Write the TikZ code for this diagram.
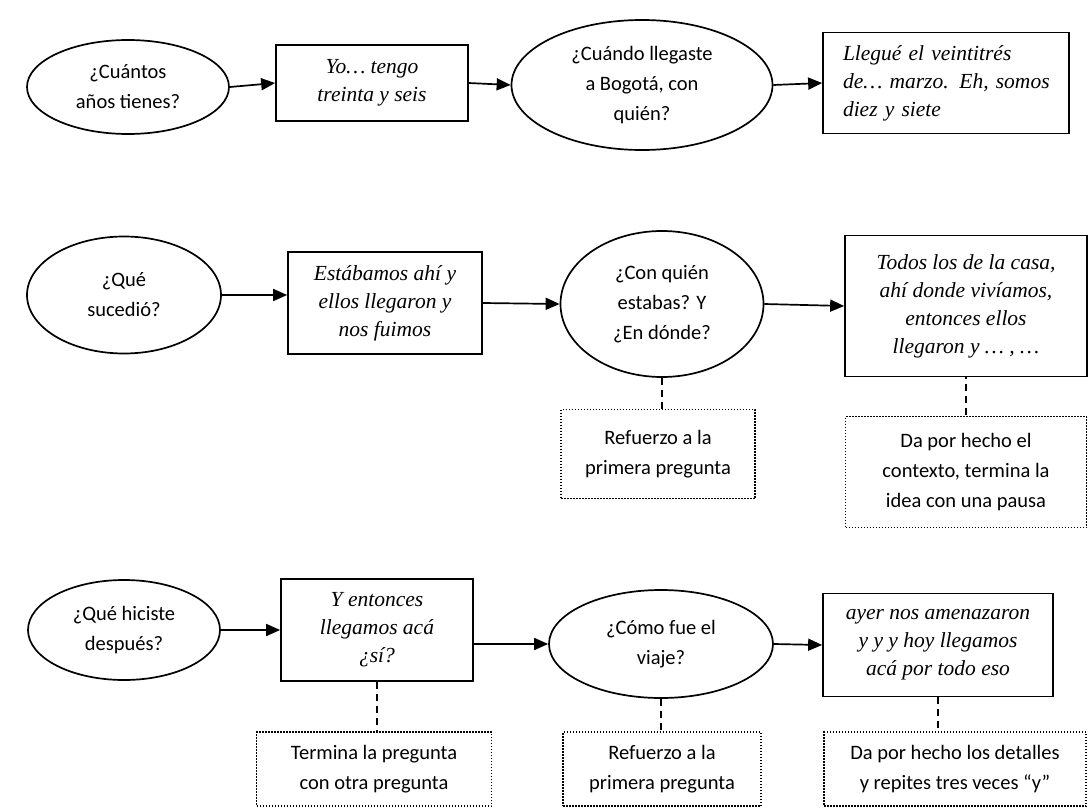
\documentclass[tikz,border=0pt]{standalone}
\usepackage{fontspec}
\usetikzlibrary{shapes.geometric,arrows.meta}
\newfontfamily\sansq{Carlito}
\newfontfamily\serifa{Liberation Serif}
\newcommand\myq{\sansq\fontsize{20.5pt}{30pt}\selectfont}
\newcommand\mya{\serifa\itshape\fontsize{21.5pt}{28pt}\selectfont}
\tikzset{
  qnode/.style={ellipse, draw, line width=1.7pt, font=\myq, align=center, inner sep=0pt},
  anode/.style={rectangle, draw, line width=1.7pt, font=\mya, align=center, inner sep=0pt},
  note/.style={rectangle, draw, line width=1.5pt, dash pattern=on 1.5pt off 1.5pt, font=\myq, align=center, inner sep=0pt},
  link/.style={line width=1.7pt, dash pattern=on 7pt off 5pt},
  flow/.style={line width=1.7pt, -{Triangle[length=14pt,width=12pt]}}
}
\begin{document}
\begin{tikzpicture}[x=1pt,y=-1pt]
\useasboundingbox (0,0) rectangle (1089,808);
\fill[white] (0,0) rectangle (1089,808);
% row 1
\node[qnode, minimum width=202pt, minimum height=94pt] (e1) at (128,87) {¿Cuántos\\años tienes?};
\node[anode, minimum width=192pt, minimum height=76pt] (b1) at (372,83) {Yo… tengo\\treinta y seis};
\node[qnode, minimum width=261pt, minimum height=130pt] (e2) at (642,85) {¿Cuándo llegaste\\a Bogotá, con\\quién?};
\node[anode, align=left, text width=206pt, inner xsep=20pt, minimum height=101pt] (b2) at (946,83) {\mbox{Llegué el veintitrés}\\\mbox{de… marzo. Eh, somos}\\\mbox{diez y siete}};
% row 2
\node[qnode, minimum width=194pt, minimum height=117pt] (e3) at (124,295) {¿Qué\\sucedió?};
\node[anode, minimum width=194pt, minimum height=102pt] (b3) at (385,303) {Estábamos ahí y\\ellos llegaron y\\nos fuimos};
\node[qnode, minimum width=203pt, minimum height=146pt] (e4) at (662,304) {¿Con quién\\estabas? Y\\¿En dónde?};
\node[anode, minimum width=242pt, minimum height=141pt] (b4) at (966,306) {Todos los de la casa,\\ahí donde vivíamos,\\entonces ellos\\llegaron y … , …};
\node[note, minimum width=194pt, minimum height=89pt] (d1) at (658,454) {Refuerzo a la\\primera pregunta};
\node[note, minimum width=241pt, minimum height=111pt] (d2) at (966,472) {Da por hecho el\\contexto, termina la\\idea con una pausa};
% row 3
\node[qnode, minimum width=192pt, minimum height=100pt] (e5) at (124,630) {¿Qué hiciste\\después?};
\node[anode, minimum width=192pt, minimum height=102pt] (b5) at (377,630) {Y entonces\\llegamos acá\\¿sí?};
\node[qnode, minimum width=224pt, minimum height=108pt] (e6) at (661,644) {¿Cómo fue el\\viaje?};
\node[anode, minimum width=230pt, minimum height=103pt] (b6) at (938,645) {ayer nos amenazaron\\y y y hoy llegamos\\acá por todo eso};
\node[note, minimum width=235pt, minimum height=74pt] (d3) at (374,769) {Termina la pregunta\\con otra pregunta};
\node[note, minimum width=198pt, minimum height=74pt] (d4) at (662,769) {Refuerzo a la\\primera pregunta};
\node[note, minimum width=262pt, minimum height=74pt] (d5) at (955,769) {Da por hecho los detalles\\y repites tres veces “y”};
% connectors
\draw[flow] (e1.east) -- (b1.west);
\draw[flow] (b1.east) -- (e2.west);
\draw[flow] (e2.east) -- (b2.west);
\draw[flow] (e3.east) -- (e3.east -| b3.west);
\draw[flow] (b3.east) -- (e4.west);
\draw[flow] (e4.east) -- (b4.west);
\draw[flow] (e5.east) -- (b5.west);
\draw[flow] (b5.east |- e6.west) -- (e6.west);
\draw[flow] (e6.east) -- (b6.west);
\draw[link] (e4.south) -- (e4.south |- d1.north);
\draw[link, dash phase=5pt] (b4.south) -- (b4.south |- d2.north);
\draw[link] (b5.south) -- (b5.south |- d3.north);
\draw[link] (e6.south) -- (e6.south |- d4.north);
\draw[link] (b6.south) -- (b6.south |- d5.north);
\end{tikzpicture}
\end{document}
